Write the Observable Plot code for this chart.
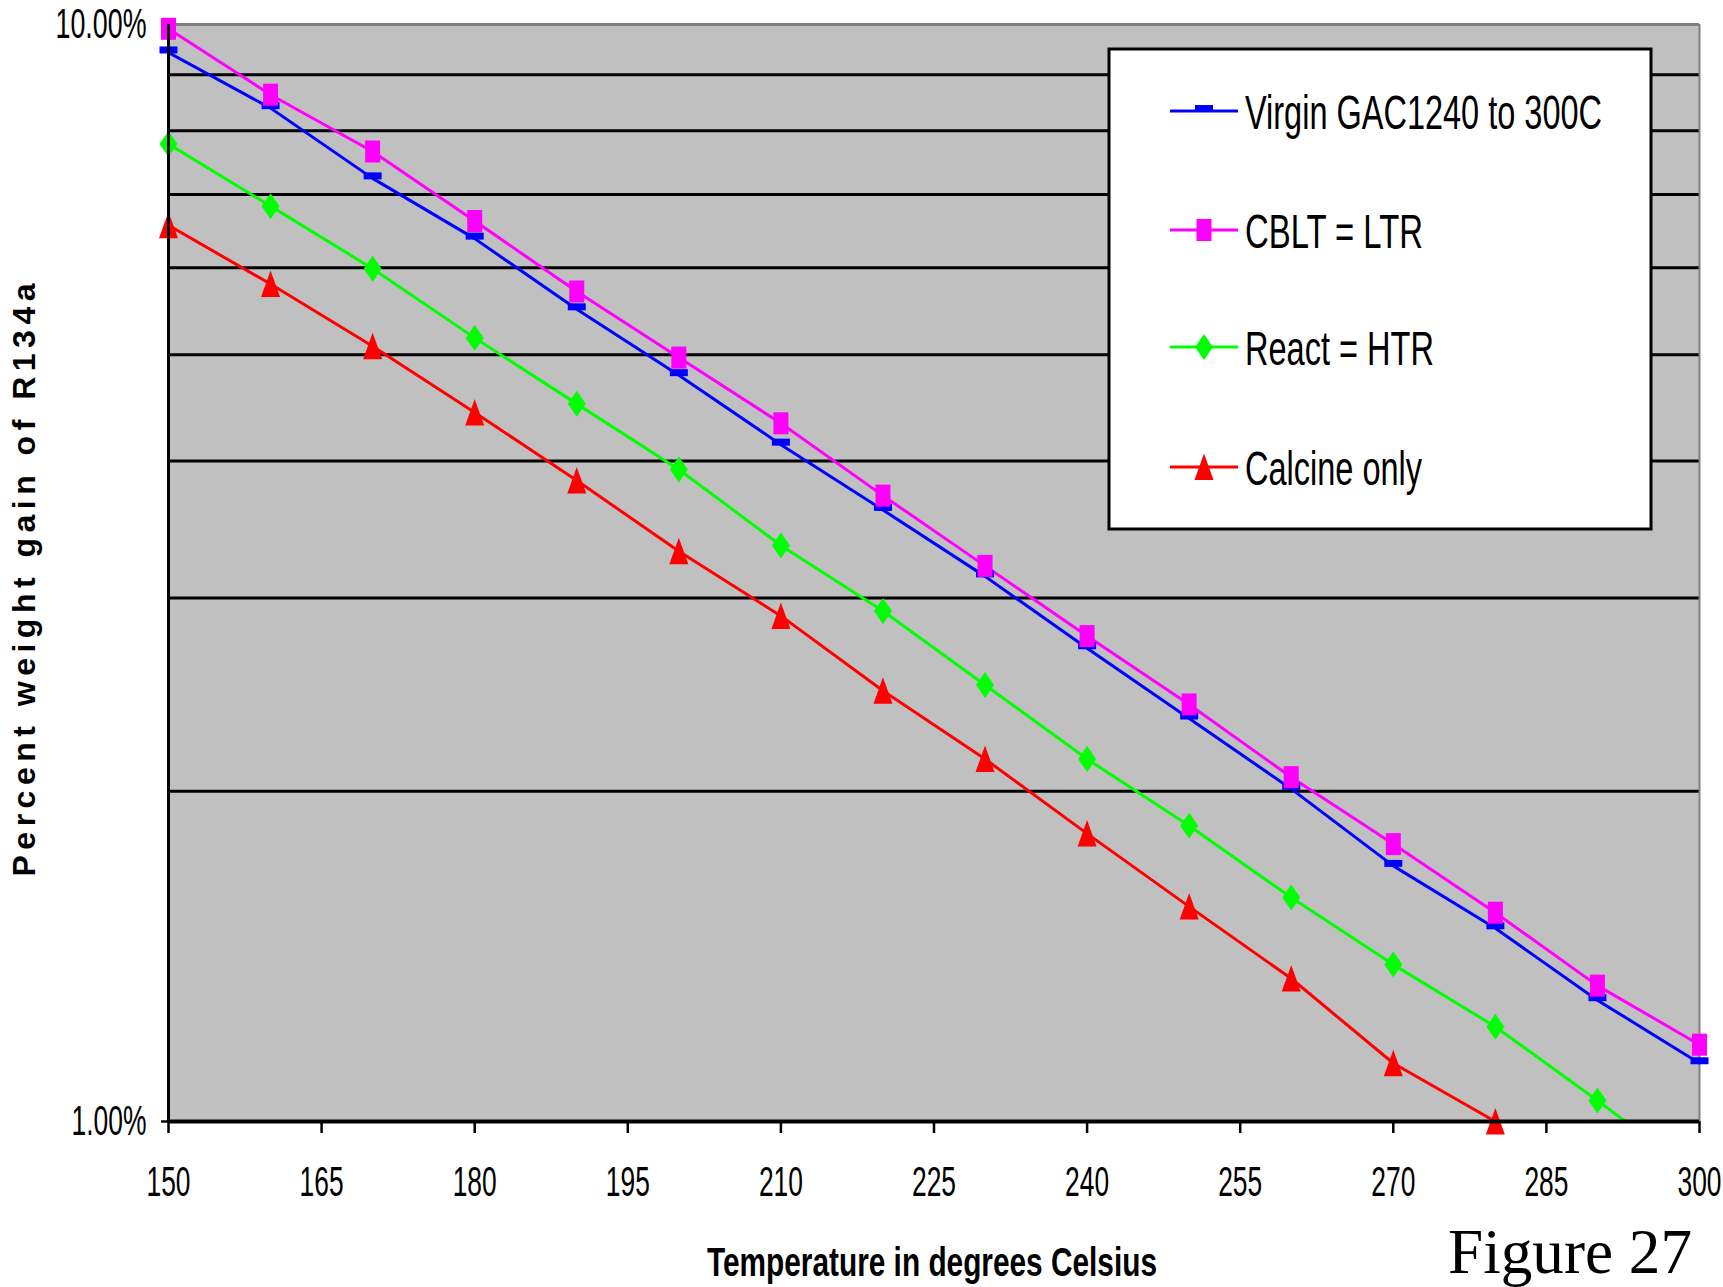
<!DOCTYPE html>
<html><head><meta charset="utf-8">
<script src="https://cdn.jsdelivr.net/npm/d3@7"></script>
<script src="https://cdn.jsdelivr.net/npm/@observablehq/plot@0.6"></script>
<style>
html,body{margin:0;padding:0;background:#fff;}
#chart{position:relative;width:1723px;height:1287px;overflow:hidden;}
#chart svg{position:absolute;left:0;top:0;}
</style></head><body><div id="chart"></div>
<script>
// ---- data ----
const temps   = [150,160,170,180,190,200,210,220,230,240,250,260,270,280,290,300];
const virgin  = [9.43,8.39,7.24,6.38,5.50,4.79,4.14,3.61,3.14,2.70,2.33,2.01,1.71,1.50,1.29,1.13];
const cblt    = [9.91,8.63,7.66,6.62,5.71,4.97,4.33,3.72,3.21,2.77,2.40,2.06,1.79,1.55,1.33,1.175];
const react   = [7.78,6.83,5.99,5.18,4.51,3.93,3.35,2.92,2.50,2.14,1.86,1.60,1.39,1.22,1.045,0.89];
const calcine = [6.56,5.80,5.09,4.43,3.84,3.31,2.89,2.47,2.14,1.83,1.57,1.35,1.13,1.00,0.86,null];
const seriesNames  = ["Virgin GAC1240 to 300C","CBLT = LTR","React = HTR","Calcine only"];
const seriesColors = ["#0000ff","#ff00ff","#00ff00","#ff0000"];
const xTicks = [150,165,180,195,210,225,240,255,270,285,300];
const yTicks = [1,10];
const gridValues = [2,3,4,5,6,7,8,9];
const xTitle = "Temperature in degrees Celsius";
const yTitle = "Percent weight gain of R134a";
const caption = "Figure 27";

// ---- marker shapes ----
const symbols = [
  {draw(c){ c.rect(-9,-6,18,7); }},
  {draw(c){ c.rect(-7.5,-11,15,22); }},
  {draw(c){ c.moveTo(0,-13); c.lineTo(9,0); c.lineTo(0,13); c.lineTo(-9,0); c.closePath(); }},
  {draw(c){ c.moveTo(0,-13.5); c.lineTo(9.5,13); c.lineTo(-9.5,13); c.closePath(); }}
];

const seriesValues = [virgin, cblt, react, calcine];
const rows = [];
seriesValues.forEach((vals, i) => vals.forEach((v, j) => rows.push({series: seriesNames[i], temp: temps[j], value: v})));

const NARROW = '"Liberation Sans Narrow","Arial Narrow","Liberation Sans",Arial,sans-serif';

const dotMarks = seriesNames.map((name, i) =>
  Plot.dot(rows.filter(d => d.series === name && d.value != null && d.value >= 0.999),
    {x: "temp", y: "value", symbol: symbols[i], fill: seriesColors[i], stroke: "none", r: 5}));

const plot = Plot.plot({
  width: 1723, height: 1287,
  marginLeft: 168, marginRight: 24, marginTop: 24, marginBottom: 166,
  style: {fontFamily: NARROW, fontSize: "42px", background: "transparent", color: "black", overflow: "visible"},
  x: {domain: [150, 300], ticks: xTicks, tickFormat: d => String(d), tickSize: 12, tickPadding: 33, label: null},
  y: {type: "log", domain: [1, 10], ticks: yTicks, tickFormat: d => d.toFixed(2) + "%", tickSize: 7, tickPadding: 15, label: null},
  color: {domain: seriesNames, range: seriesColors},
  marks: [
    Plot.frame({fill: "#c0c0c0", stroke: "none"}),
    Plot.ruleY(gridValues, {stroke: "black", strokeWidth: 3}),
    Plot.ruleY([10], {stroke: "#808080", strokeWidth: 3}),
    Plot.ruleX([300], {stroke: "#808080", strokeWidth: 2}),
    Plot.line(rows, {x: "temp", y: "value", z: "series", stroke: "series", strokeWidth: 3, clip: true}),
    ...dotMarks,
    Plot.ruleX([150], {stroke: "black", strokeWidth: 3}),
    Plot.ruleY([1], {stroke: "black", strokeWidth: 4})
  ]
});
document.getElementById("chart").appendChild(plot);

// compress tick labels like the original narrow rendering
plot.querySelectorAll('g[aria-label^="x-axis"] text').forEach(t => {
  t.setAttribute("textLength", 44); t.setAttribute("lengthAdjust", "spacingAndGlyphs");
});
plot.querySelectorAll('g[aria-label^="y-axis"] text').forEach(t => {
  const w = t.textContent.length >= 6 ? 91 : 75;
  t.setAttribute("textLength", w); t.setAttribute("lengthAdjust", "spacingAndGlyphs");
});
plot.querySelectorAll('g[aria-label^="x-axis"] line, g[aria-label^="x-axis"] path, g[aria-label^="y-axis"] line, g[aria-label^="y-axis"] path')
  .forEach(e => { e.style.strokeWidth = "2.5"; e.style.stroke = "black"; });

// ---- overlay: titles, caption, legend ----
const ov = d3.select("#chart").append("svg").attr("width", 1723).attr("height", 1287)
  .style("pointer-events", "none");

ov.append("text").text(yTitle)
  .attr("transform", "translate(35,580) rotate(-90)")
  .attr("text-anchor", "middle")
  .attr("font-family", '"Liberation Sans",Arial,sans-serif').attr("font-weight", "bold").attr("font-size", 32)
  .attr("textLength", 593).attr("lengthAdjust", "spacing");

ov.append("text").text(xTitle)
  .attr("x", 932).attr("y", 1276).attr("text-anchor", "middle")
  .attr("font-family", NARROW).attr("font-weight", "bold").attr("font-size", 41)
  .attr("textLength", 450).attr("lengthAdjust", "spacingAndGlyphs");

ov.append("text").text(caption)
  .attr("x", 1448).attr("y", 1273)
  .attr("font-family", '"Liberation Serif","Times New Roman",serif').attr("font-size", 64)
  .attr("textLength", 244).attr("lengthAdjust", "spacingAndGlyphs");

const lg = ov.append("g");
lg.append("rect").attr("x", 1109).attr("y", 49).attr("width", 542).attr("height", 480)
  .attr("fill", "white").attr("stroke", "black").attr("stroke-width", 3);
const legendY = [111, 230, 347, 467];
const legendW = [357, 178, 189, 177];
seriesNames.forEach((name, i) => {
  const cy = legendY[i];
  lg.append("line").attr("x1", 1170).attr("x2", 1238).attr("y1", cy).attr("y2", cy)
    .attr("stroke", seriesColors[i]).attr("stroke-width", 3);
  lg.append("path").attr("d", d3.symbol(symbols[i])()).attr("transform", `translate(1204,${cy})`)
    .attr("fill", seriesColors[i]);
  lg.append("text").text(name).attr("x", 1245).attr("y", cy + 18)
    .attr("font-family", NARROW).attr("font-size", 48)
    .attr("textLength", legendW[i]).attr("lengthAdjust", "spacingAndGlyphs");
});
</script></body></html>
